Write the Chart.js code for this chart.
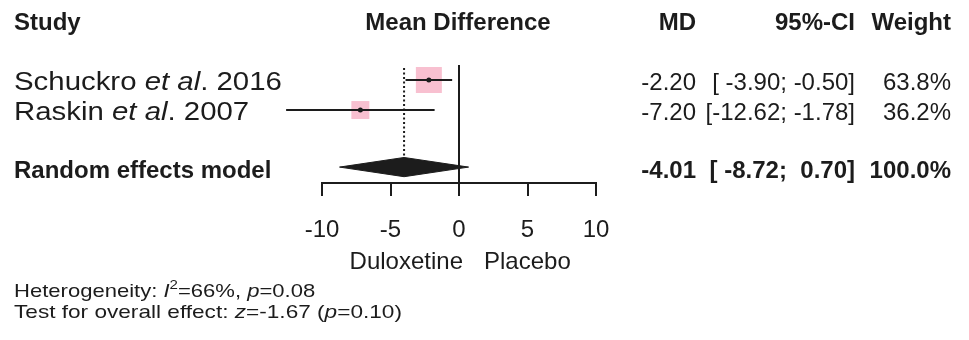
<!doctype html>
<html>

<head>
  <meta charset="utf-8" />
  <title>Duloxetine vs Placebo</title>
  <script src="https://cdn.jsdelivr.net/npm/chart.js"></script>
  <style>
    body {
      margin: 0;
      background: #fff;
    }

    #wrap {
      width: 969px;
      height: 340px;
      position: relative;
    }
  </style>
</head>

<body>
  <div id="wrap"><canvas id="forest"></canvas></div>

  <script>
    // study data
    const authors = ['Schuckro', 'Raskin'];
    const years = [2016, 2007];
    const md = [-2.20, -7.20];
    const ciLow = [-3.90, -12.62];
    const ciHigh = [-0.50, -1.78];
    const weights = [63.8, 36.2];
    const rows = [1, 2];

    // random effects model
    const pooledMD = -4.01;
    const pooledLow = -8.72;
    const pooledHigh = 0.70;
    const pooledRow = 3.9;

    const xTicks = [-10, -5, 0, 5, 10];
    const hetI2 = '66%';
    const hetP = '0.08';
    const zStat = '-1.67';
    const zP = '0.10';

    const FONT = "'Liberation Sans', Arial, sans-serif";
    const INK = '#1c1c1c';
    const yMax = 4.43;
    const diamondHalf = 0.32;

    Chart.defaults.font.family = FONT;

    // side of the square grows with the weight
    function boxRadius(w) {
      const side = 26 * Math.pow(w / weights[0], 0.65);
      return side / (2 * Math.SQRT1_2);
    }

    function fmtCI(lo, hi) {
      return '[' + lo.toFixed(2).padStart(6) + '; ' + hi.toFixed(2).padStart(5) + ']';
    }

    // segments: [text, style] with style '', 'i' or 'sup'
    function drawRich(ctx, segs, x, y, size, align, sx, bold) {
      const w = bold ? 'bold ' : '';
      const fontFor = s => s === 'i' ? 'italic ' + w + size + 'px ' + FONT
        : s === 'sup' ? w + Math.round(size * 0.7) + 'px ' + FONT
          : w + size + 'px ' + FONT;
      let total = 0;
      segs.forEach(([t, s]) => { ctx.font = fontFor(s); total += ctx.measureText(t).width; });
      ctx.save();
      ctx.translate(x, y);
      ctx.scale(sx, 1);
      let cx = align === 'right' ? -total : align === 'center' ? -total / 2 : 0;
      ctx.textAlign = 'left';
      ctx.textBaseline = 'alphabetic';
      segs.forEach(([t, s]) => {
        ctx.font = fontFor(s);
        ctx.fillText(t, cx, s === 'sup' ? -size * 0.42 : 0);
        cx += ctx.measureText(t).width;
      });
      ctx.restore();
    }

    const textPlugin = {
      id: 'forestText',
      afterDraw(chart) {
        const ctx = chart.ctx;
        const xs = chart.scales.x;
        const ys = chart.scales.y;
        const x0 = xs.getPixelForValue(0);
        ctx.fillStyle = INK;

        // header
        drawRich(ctx, [['Study', '']], 14, 30, 24, 'left', 1, true);
        drawRich(ctx, [['Mean Difference', '']], x0 - 1, 30, 24, 'center', 1, true);
        drawRich(ctx, [['MD', '']], 696, 30, 24, 'right', 1, true);
        drawRich(ctx, [['95%-CI', '']], 855, 30, 24, 'right', 1, true);
        drawRich(ctx, [['Weight', '']], 951, 30, 24, 'right', 1, true);

        // studies
        authors.forEach((a, i) => {
          const y = ys.getPixelForValue(rows[i]);
          drawRich(ctx, [[a + ' ', ''], ['et al', 'i'], ['. ' + years[i], '']], 14, y + 10, 26, 'left', 1.13, false);
          drawRich(ctx, [[md[i].toFixed(2), '']], 696, y + 10, 24, 'right', 1, false);
          drawRich(ctx, [[fmtCI(ciLow[i], ciHigh[i]), '']], 855, y + 10, 24, 'right', 1, false);
          drawRich(ctx, [[weights[i].toFixed(1) + '%', '']], 951, y + 10, 24, 'right', 1, false);
        });

        // pooled
        const py = ys.getPixelForValue(pooledRow) + 11;
        drawRich(ctx, [['Random effects model', '']], 14, py, 24, 'left', 1, true);
        drawRich(ctx, [[pooledMD.toFixed(2), '']], 696, py, 24, 'right', 1, true);
        drawRich(ctx, [[fmtCI(pooledLow, pooledHigh), '']], 855, py, 24, 'right', 1, true);
        drawRich(ctx, [['100.0%', '']], 951, py, 24, 'right', 1, true);

        // axis side labels
        drawRich(ctx, [['Duloxetine', '']], x0 + 4, 269, 24, 'right', 1, false);
        drawRich(ctx, [['Placebo', '']], x0 + 25, 269, 24, 'left', 1, false);

        // footer
        drawRich(ctx, [['Heterogeneity: ', ''], ['I', 'i'], ['2', 'sup'], ['=' + hetI2 + ', ', ''], ['p', 'i'], ['=' + hetP, '']],
          14, 297, 19, 'left', 1.16, false);
        drawRich(ctx, [['Test for overall effect: ', ''], ['z', 'i'], ['=' + zStat + ' (', ''], ['p', 'i'], ['=' + zP + ')', '']],
          14, 318, 19, 'left', 1.19, false);
      }
    };

    const lineSet = (data, extra) => Object.assign({
      data: data,
      showLine: true,
      borderColor: INK,
      borderWidth: 2,
      pointRadius: 0,
      fill: false,
      clip: false
    }, extra);

    const datasets = [];
    // zero line
    datasets.push(lineSet([{ x: 0, y: 0.5 }, { x: 0, y: yMax }], { order: 2 }));
    // pooled estimate, dotted
    datasets.push(lineSet([{ x: pooledMD, y: 0.6 }, { x: pooledMD, y: pooledRow - diamondHalf }], { order: 2, borderDash: [2, 2.5] }));
    // confidence intervals
    rows.forEach((r, i) => {
      datasets.push(lineSet([{ x: ciLow[i], y: r }, { x: ciHigh[i], y: r }], { order: 3 }));
    });
    // weight squares
    datasets.push({
      data: rows.map((r, i) => ({ x: md[i], y: r })),
      pointStyle: 'rect',
      pointRadius: weights.map(boxRadius),
      backgroundColor: '#f8c0d0',
      borderWidth: 0,
      clip: false,
      order: 10
    });
    // estimate dots
    datasets.push({
      data: rows.map((r, i) => ({ x: md[i], y: r })),
      pointRadius: 2.5,
      backgroundColor: INK,
      borderWidth: 0,
      clip: false,
      order: 1
    });
    // pooled diamond
    datasets.push(lineSet([
      { x: pooledLow, y: pooledRow },
      { x: pooledMD, y: pooledRow - diamondHalf },
      { x: pooledHigh, y: pooledRow },
      { x: pooledMD, y: pooledRow + diamondHalf },
      { x: pooledLow, y: pooledRow }
    ], { order: 1, borderWidth: 1, fill: 'shape', backgroundColor: INK }));

    new Chart(document.getElementById('forest'), {
      type: 'scatter',
      data: { datasets: datasets },
      options: {
        responsive: true,
        maintainAspectRatio: false,
        animation: false,
        layout: { padding: { left: 322, right: 373, top: 50, bottom: 0 } },
        plugins: { legend: { display: false }, tooltip: { enabled: false } },
        scales: {
          x: {
            type: 'linear',
            min: -10,
            max: 10,
            afterBuildTicks: s => { s.ticks = xTicks.map(v => ({ value: v })); },
            afterFit: s => { s.height = 157; },
            ticks: { font: { size: 24 }, color: INK, padding: 20, maxRotation: 0 },
            grid: { drawOnChartArea: false, drawTicks: true, tickLength: 13, color: INK, lineWidth: 2 },
            border: { display: true, color: INK, width: 2 }
          },
          y: {
            type: 'linear',
            min: 0,
            max: yMax,
            reverse: true,
            display: false
          }
        }
      },
      plugins: [textPlugin]
    });
  </script>
</body>

</html>
